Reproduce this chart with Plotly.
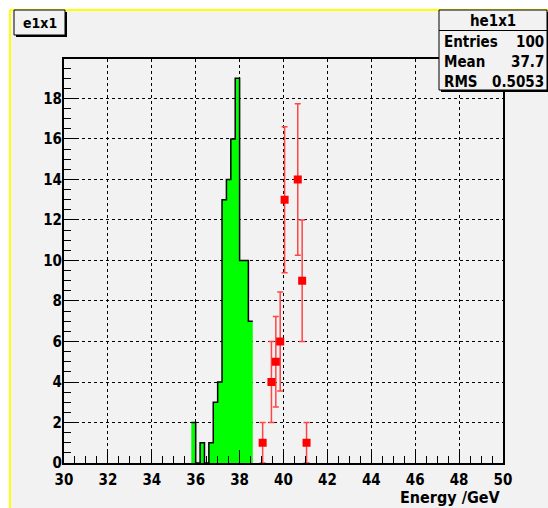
import plotly.graph_objects as go

# ---- data ----
bin_width = 0.2
green_edges_start = 35.8
green_counts = [2, 0, 1, 0, 1, 3, 4, 13, 14, 16, 19, 10, 10, 7]

red_x = [39.05, 39.45, 39.65, 39.85, 40.05, 40.65, 40.85, 41.05]
red_y = [1, 4, 5, 6, 13, 14, 9, 1]
red_err = [1, 2, 2.24, 2.45, 3.6, 3.74, 3, 1]

x_ticks = [30, 32, 34, 36, 38, 40, 42, 44, 46, 48, 50]
y_ticks = [0, 2, 4, 6, 8, 10, 12, 14, 16, 18]

stat_title = "he1x1"
stat_rows = [("Entries", "100"), ("Mean", "37.7"), ("RMS", "0.5053")]
hist_title = "e1x1"
x_title = "Energy /GeV"

# ---- geometry ----
W, H = 548, 508
L, R, T, B = 64, 503, 59, 463
BG = "#f2f2f2"
FONT = "DejaVu Sans Condensed, Liberation Sans Narrow, Arial Narrow, sans-serif"


def px(x):
    return (x - L) / (R - L)


def py(y):
    return (B - y) / (B - T)


edges = [green_edges_start + i * bin_width for i in range(len(green_counts) + 1)]
step_y = green_counts + [green_counts[-1]]

fig = go.Figure()
fig.add_trace(go.Scatter(
    x=edges, y=step_y, mode="lines", line_shape="hv",
    line=dict(color="black", width=1.5),
    fill="tozeroy", fillcolor="#00ff00", hoverinfo="skip", showlegend=False,
))
fig.add_trace(go.Scatter(
    x=red_x, y=red_y, mode="markers",
    marker=dict(symbol="square", size=8, color="#ff0000", line=dict(width=0)),
    error_y=dict(type="data", array=red_err, visible=True,
                 color="rgb(255,70,70)", thickness=1.5, width=3),
    showlegend=False,
))

tickfont = dict(family=FONT, size=15, color="black", weight="bold")

fig.update_xaxes(
    range=[30, 50], tickvals=x_ticks, ticktext=[str(v) for v in x_ticks],
    ticks="inside", ticklen=13, tickwidth=1.2, tickcolor="black",
    minor=dict(ticks="inside", dtick=0.5, ticklen=7, tickwidth=1, tickcolor="black", showgrid=False),
    showline=True, linecolor="black", linewidth=2, mirror=True,
    showgrid=True, gridcolor="black", griddash="dot", gridwidth=1,
    zeroline=False, tickfont=tickfont, ticklabelstandoff=2,
)
fig.update_yaxes(
    range=[0, 19.95], tickvals=y_ticks, ticktext=[str(v) for v in y_ticks],
    ticks="inside", ticklen=13, tickwidth=1.2, tickcolor="black",
    minor=dict(ticks="inside", dtick=0.5, ticklen=7, tickwidth=1, tickcolor="black", showgrid=False),
    showline=True, linecolor="black", linewidth=2, mirror=True,
    showgrid=True, gridcolor="black", griddash="dot", gridwidth=1,
    zeroline=False, tickfont=tickfont, ticklabelstandoff=-3,
)

shapes = []
annotations = []
# white outer strips and yellow border
shapes.append(dict(type="rect", xref="paper", yref="paper", x0=px(0), x1=px(10), y0=py(0), y1=py(W),
                   fillcolor="white", line=dict(width=0), layer="above"))
shapes.append(dict(type="rect", xref="paper", yref="paper", x0=px(0), x1=px(W + 5), y0=py(0), y1=py(10),
                   fillcolor="white", line=dict(width=0), layer="above"))
shapes.append(dict(type="line", xref="paper", yref="paper", x0=px(10), x1=px(10), y0=py(10), y1=py(H + 5),
                   line=dict(color="#ffff00", width=2), layer="above"))
shapes.append(dict(type="line", xref="paper", yref="paper", x0=px(10), x1=px(W + 5), y0=py(10), y1=py(10),
                   line=dict(color="#ffff00", width=2), layer="above"))

# title box with shadow
shapes.append(dict(type="rect", xref="paper", yref="paper", x0=px(16), x1=px(67), y0=py(12), y1=py(37),
                   fillcolor="black", line=dict(width=0), layer="above"))
shapes.append(dict(type="rect", xref="paper", yref="paper", x0=px(14), x1=px(65), y0=py(10), y1=py(35),
                   fillcolor=BG, line=dict(color="black", width=1), layer="above"))
annotations.append(dict(xref="paper", yref="paper", x=px(39.5), y=py(22.5), text=hist_title, showarrow=False,
                        xanchor="center", yanchor="middle",
                        font=dict(family=FONT, size=14, color="black", weight="bold")))

# stat box
sx0, sx1, sy0, sy1 = 439, 547, 10, 90
shapes.append(dict(type="rect", xref="paper", yref="paper", x0=px(sx0 + 2), x1=px(sx1 + 2), y0=py(sy0 + 2), y1=py(sy1 + 2),
                   fillcolor="black", line=dict(width=0), layer="above"))
shapes.append(dict(type="rect", xref="paper", yref="paper", x0=px(sx0), x1=px(sx1), y0=py(sy0), y1=py(sy1),
                   fillcolor=BG, line=dict(color="black", width=1), layer="above"))
shapes.append(dict(type="line", xref="paper", yref="paper", x0=px(sx0), x1=px(sx1), y0=py(30.5), y1=py(30.5),
                   line=dict(color="black", width=1), layer="above"))
annotations.append(dict(xref="paper", yref="paper", x=px((sx0 + sx1) / 2), y=py(21), text=stat_title, showarrow=False,
                        xanchor="center", yanchor="middle",
                        font=dict(family=FONT, size=15, color="black", weight="bold")))
row_y = [41.5, 62, 81.5]
for (lab, val), yy in zip(stat_rows, row_y):
    annotations.append(dict(xref="paper", yref="paper", x=px(sx0 + 3), y=py(yy), text=lab, showarrow=False,
                            xanchor="left", yanchor="middle",
                            font=dict(family=FONT, size=15, color="black", weight="bold")))
    annotations.append(dict(xref="paper", yref="paper", x=px(sx1 - 1), y=py(yy), text=val, showarrow=False,
                            xanchor="right", yanchor="middle",
                            font=dict(family=FONT, size=15, color="black", weight="bold")))

# x axis title
annotations.append(dict(xref="paper", yref="paper", x=px(502), y=py(497), text=x_title, showarrow=False,
                        xanchor="right", yanchor="middle",
                        font=dict(family=FONT, size=16, color="black", weight="bold")))

fig.update_layout(
    width=W, height=H,
    margin=dict(l=L, r=W - R, t=T, b=H - B, pad=0),
    paper_bgcolor=BG, plot_bgcolor=BG,
    shapes=shapes, annotations=annotations,
    showlegend=False,
)

fig.write_html("out.html")
